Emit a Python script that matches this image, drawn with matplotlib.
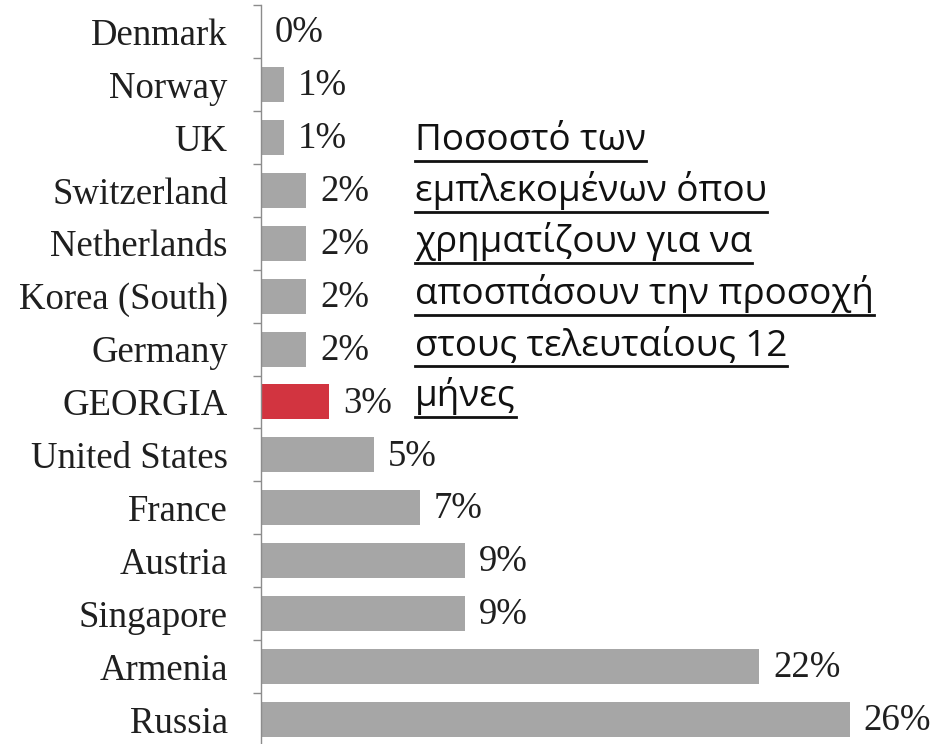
import matplotlib
matplotlib.use("Agg")
import matplotlib.pyplot as plt
import numpy as np
from matplotlib.lines import Line2D

countries = ["Denmark", "Norway", "UK", "Switzerland", "Netherlands", "Korea (South)",
             "Germany", "GEORGIA", "United States", "France", "Austria", "Singapore",
             "Armenia", "Russia"]
values = [0, 1, 1, 2, 2, 2, 2, 3, 5, 7, 9, 9, 22, 26]
highlight = "GEORGIA"
note_lines = ["Ποσοστό των", "εμπλεκομένων όπου", "χρηματίζουν για να",
              "αποσπάσουν την προσοχή", "στους τελευταίους 12", "μήνες"]

W, H = 947, 744
fig = plt.figure(figsize=(W / 100, H / 100), dpi=100)
fig.patch.set_facecolor("white")

ax_left = 261 / W
ax_top = 5
ax_bottom_px = 746
ax = fig.add_axes([ax_left, (H - ax_bottom_px) / H, 1 - ax_left, (ax_bottom_px - ax_top) / H])
ax.set_facecolor("none")

y = np.arange(len(countries))
colors = ["#d23440" if c == highlight else "#a6a6a6" for c in countries]
ax.barh(y, values, height=0.66, color=colors, edgecolor="none", zorder=2)

ax.set_ylim(len(countries) - 0.5, -0.5)
ax.set_xlim(0, (W - 261) / 22.65)

ax.set_yticks(y)
ax.set_yticklabels(countries, family="Liberation Serif", fontsize=26.5, color="#1f1f1f")
ax.tick_params(axis="y", which="major", length=0, pad=24)
ax.set_yticks(np.arange(-0.5, len(countries), 1.0), minor=True)
ax.tick_params(axis="y", which="minor", length=6, width=1, color="#8c8c8c", direction="out")
ax.set_xticks([])

for s in ["top", "right", "bottom"]:
    ax.spines[s].set_visible(False)
ax.spines["left"].set_color("#8c8c8c")
ax.spines["left"].set_linewidth(1)

for yi, v in zip(y, values):
    ax.annotate(f"{v}%", xy=(v, yi), xytext=(10, -1), textcoords="offset points",
                va="center", ha="left", family="Liberation Serif", fontsize=26.5,
                color="#1f1f1f")

# Greek note with underline
fs = 21
x0 = 415
base0 = 150
spacing = 51.2
target_w = 458
texts = []
for i, line in enumerate(note_lines):
    yb = base0 + i * spacing
    t = fig.text(x0 / W, 1 - yb / H, line, family="Open Sans", fontsize=fs,
                 ha="left", va="baseline", color="#111111")
    texts.append((t, yb))

fig.canvas.draw()
r = fig.canvas.get_renderer()
w_ref = texts[3][0].get_window_extent(renderer=r).width
new_fs = fs * target_w / w_ref
for t, _ in texts:
    t.set_fontsize(new_fs)
fig.canvas.draw()
for t, yb in texts:
    bb = t.get_window_extent(renderer=r)
    uy = 1 - (yb + 11) / H
    fig.add_artist(Line2D([bb.x0 / W, bb.x1 / W], [uy, uy], transform=fig.transFigure,
                          color="#111111", linewidth=2.0))

fig.savefig("out.png", dpi=100, facecolor="white")
